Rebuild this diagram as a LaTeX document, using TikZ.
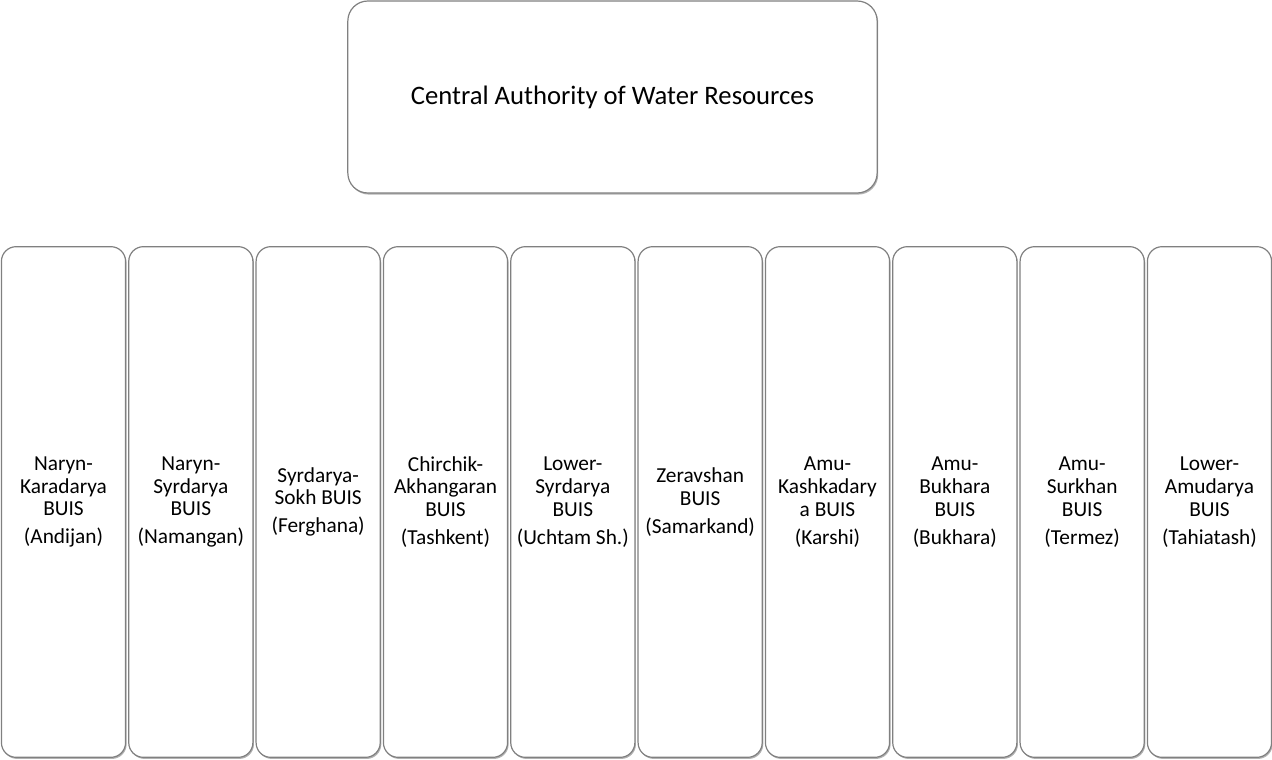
\documentclass[tikz,border=0pt]{standalone}
\usepackage{fontspec}
\setmainfont{Carlito}
\usetikzlibrary{shadows}

\definecolor{boxgray}{RGB}{128,128,128}

\tikzstyle{authority}=[rectangle,
                        rounded corners=15pt,
                        draw=boxgray,
                        line width=0.9pt,
                        fill=white,
                        minimum width=397pt,
                        minimum height=144pt,
                        font=\fontsize{20}{24}\selectfont,
                        drop shadow={shadow xshift=0.8pt,shadow yshift=-1.2pt,fill=black,opacity=0.3}]

\tikzstyle{buis}=[rectangle,
                        rounded corners=11pt,
                        draw=boxgray,
                        line width=0.9pt,
                        fill=white,
                        minimum width=93.1pt,
                        minimum height=383pt,
                        align=center,
                        font=\fontsize{16}{17}\selectfont,
                        drop shadow={shadow xshift=0.8pt,shadow yshift=-1.2pt,fill=black,opacity=0.3}]

\begin{document}
\begin{tikzpicture}[x=0.75pt,y=-0.75pt]
  \useasboundingbox (0,0) rectangle (1272,760);

  % The head office sits on top:
  \node (central) [authority] at (612.5,97) {Central Authority of Water Resources};

  % The basin offices are conveniently placed using a matrix:
  \matrix (branches) [column sep=1.5pt,inner sep=0pt] at (636.5,502) {
        \node (andijan) [buis] {Naryn-\\Karadarya\\BUIS\\[4pt](Andijan)};  &
        \node (namangan) [buis] {Naryn-\\Syrdarya\\BUIS\\[4pt](Namangan)};  &
        \node (ferghana) [buis] {Syrdarya-\\Sokh BUIS\\[4pt](Ferghana)};  &
        \node (tashkent) [buis] {Chirchik-\\Akhangaran\\BUIS\\[4pt](Tashkent)};  &
        \node (uchtam) [buis] {Lower-\\Syrdarya\\BUIS\\[4pt](Uchtam Sh.)};  &
        \node (samarkand) [buis] {Zeravshan\\BUIS\\[4pt](Samarkand)};  &
        \node (karshi) [buis] {Amu-\\Kashkadary\\a BUIS\\[4pt](Karshi)};  &
        \node (bukhara) [buis] {Amu-\\Bukhara\\BUIS\\[4pt](Bukhara)};  &
        \node (termez) [buis] {Amu-\\Surkhan\\BUIS\\[4pt](Termez)};  &
        \node (tahiatash) [buis] {Lower-\\Amudarya\\BUIS\\[4pt](Tahiatash)};
		\\
    };

\end{tikzpicture}
\end{document}
